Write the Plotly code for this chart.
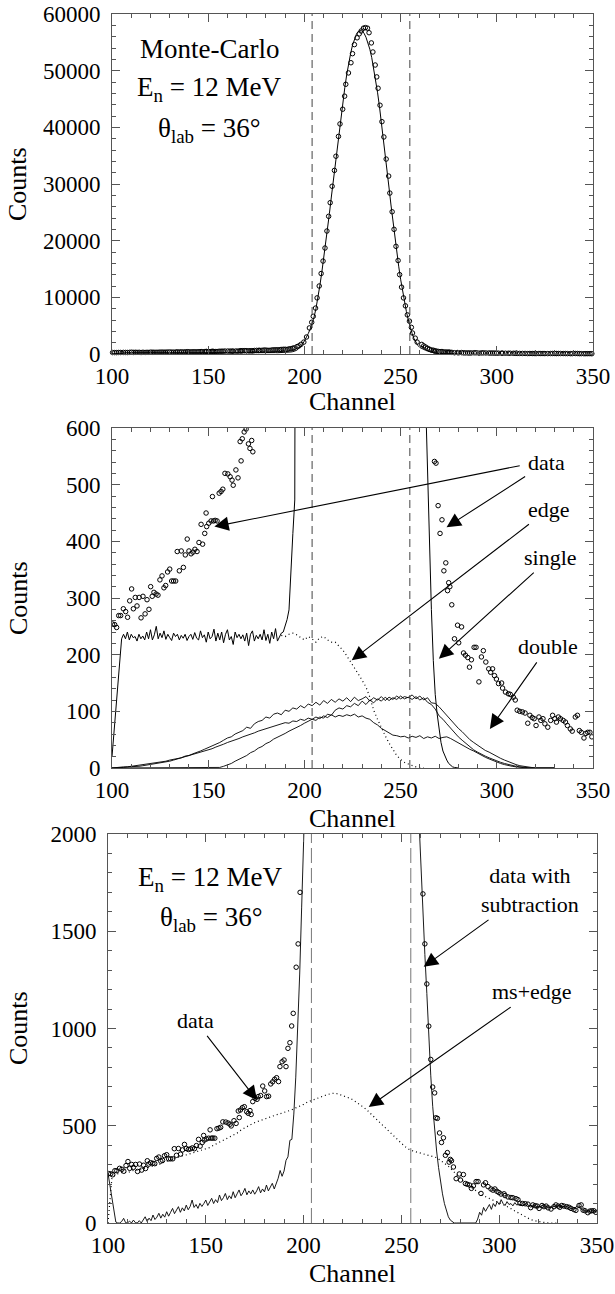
import plotly.graph_objects as go

# ---------------- data ----------------
data_ch = [100.3, 101.4, 102.4, 103.5, 104.5, 105.9, 107.1, 108.1, 109.2, 110.2, 111.1, 112.1, 113.0, 114.1, 115.1,
           116.1, 117.2, 118.2, 119.2, 120.1, 120.9, 121.8, 122.9, 123.9, 124.9, 126.0, 127.0, 127.9, 128.9, 130.0,
           131.0, 132.0, 133.1, 133.9, 135.0, 136.0, 137.1, 138.1, 139.1, 140.0, 141.1, 142.1, 143.1, 144.2, 145.2,
           146.3, 147.1, 148.2, 148.9, 149.2, 150.3, 151.5, 152.2, 152.8, 153.6, 154.6, 155.7, 156.7, 157.6, 158.7,
           160.2, 161.4, 162.4, 163.0, 164.4, 165.5, 166.6, 167.1, 167.7, 168.7, 169.7, 170.9, 171.7, 172.6, 173.2,
           174.0, 175.2, 176.2, 176.8, 178.0, 179.1, 180.1, 181.1, 182.1, 183.2, 184.2, 185.2, 186.2, 187.2, 187.9,
           189.0, 190.0, 191.0, 192.0, 193.0, 193.9, 194.7, 196.2, 197.2, 198.2, 199.7,
           201.1, 202.6, 203.8, 204.6, 205.8, 206.6, 207.7, 208.7, 209.7, 210.7, 211.7, 212.6, 213.4, 214.4, 215.6,
           216.4, 217.7, 218.5, 219.9, 220.9, 221.5, 222.9, 224.2, 225.0, 226.0, 227.4, 228.5, 229.5, 230.7, 231.7,
           232.8, 233.6, 234.8, 235.6, 236.8, 237.6, 238.3, 239.3, 240.3, 241.3, 242.5, 243.8, 244.4, 245.6, 246.6,
           247.6, 248.7, 249.5, 250.5, 251.5, 252.5, 253.5, 254.6, 255.6, 256.2, 257.6, 258.6,
           261.0, 262.0, 263.0, 264.0, 265.0, 266.0, 267.0, 267.6, 268.4, 269.5, 270.5, 271.5, 272.5, 273.5, 274.4,
           275.0, 275.6, 276.6, 278.0, 279.6, 280.2, 281.7, 282.7, 283.7, 284.9, 285.8, 286.8, 288.2, 289.2, 290.7,
           292.0, 293.0, 294.3, 295.8, 296.8, 297.8, 298.8, 299.8, 300.9, 302.5, 303.0, 304.5, 306.0, 307.0, 308.6,
           309.6, 310.6, 311.9, 313.3, 314.7, 316.1, 317.2, 318.4, 319.4, 320.4, 321.9, 322.9, 324.0, 325.0, 326.5,
           328.0, 329.0, 330.2, 331.0, 332.0, 333.1, 334.5, 335.7, 336.7, 338.2, 339.2, 340.8, 341.9, 342.9, 343.9,
           345.3, 346.3, 347.3, 348.4, 349.4]
data_counts = [254, 253, 248, 269, 269, 281, 276, 266, 295, 316, 281, 301, 286, 301, 265,
               303, 272, 297, 280, 320, 303, 310, 307, 305, 332, 339, 318, 322, 346, 351,
               330, 330, 330, 382, 348, 383, 354, 376, 404, 383, 378, 381, 386, 382, 398,
               430, 395, 414, 450, 426, 432, 436, 479, 436, 437, 436, 485, 488, 492, 520,
               519, 514, 508, 499, 526, 512, 576, 542, 581, 593, 598, 572, 564, 578, 558,
               624, 641, 636, 650, 655, 704, 679, 650, 652, 715, 726, 739, 747, 727, 804,
               829, 838, 804, 898, 927, 1013, 1078, 1315, 1435, 1700, 2100,
               3000, 4600, 5600, 6650, 8100, 9900, 12000, 14200, 16400, 18700, 21700, 24300, 26700, 29600, 32400,
               34900, 38400, 40600, 43200, 45500, 47600, 49600, 51400, 53000, 54600, 55800, 56500, 57000, 57500, 57600,
               57500, 56700, 54900, 53300, 51000, 48900, 46900, 43900, 41000, 38300, 34400, 31400, 28400, 25100, 22000,
               19000, 16500, 14000, 11800, 9900, 8500, 6900, 5800, 4700, 3700, 2800, 2100,
               1692, 1435, 1229, 1012, 841, 699, 669, 541, 538, 463, 414, 438, 348, 362, 313,
               327, 320, 288, 228, 252, 221, 249, 203, 199, 195, 178, 191, 213, 213, 152,
               196, 207, 187, 175, 169, 175, 163, 157, 149, 150, 141, 134, 131, 130, 125,
               120, 102, 100, 99, 97, 79, 93, 89, 87, 75, 90, 84, 87, 78, 72,
               84, 93, 87, 81, 90, 87, 84, 81, 75, 69, 65, 90, 93, 66, 63,
               53, 61, 63, 63, 55]

# Monte-Carlo total ("single") spectrum
mc_ch = [100] + list(range(105, 281)) + [350]
mc_counts = [20,
             228, 236, 228, 240, 226, 236, 230, 232, 224, 236, 228, 233, 226, 240, 228,
             244, 226, 235, 250, 228, 238, 230, 242, 227, 236, 230, 225, 238, 232, 236,
             226, 234, 229, 236, 225, 232, 236, 227, 239, 229, 226, 242, 230, 235, 222,
             240, 228, 232, 245, 224, 238, 226, 240, 221, 236, 244, 226, 232, 218, 240,
             230, 236, 228, 235, 224, 238, 216, 236, 242, 224, 234, 228, 236, 226, 244,
             225, 236, 220, 240, 228, 246, 224, 232, 238, 240, 250, 262, 279, 355, 414,
             473, 650, 950, 1300, 1750, 2300, 2900, 3600, 4400, 5300, 6500, 8000, 9800, 12000, 14300,
             16700, 19300, 22000, 24800, 27700, 30600, 33500, 36400, 39300, 42000, 44600, 47000, 49300, 51300, 53000,
             54500, 55600, 56400, 56900, 57100, 57000, 56600, 55900, 55000, 53800, 52300, 50500, 48500, 46200, 43700,
             41000, 38200, 35300, 32300, 29300, 26300, 23400, 20600, 18000, 15500, 13200, 11100, 9200, 7500, 6000,
             4700, 3600, 2700, 2000, 1500, 1150, 950, 900, 650, 520, 400, 280, 190, 130, 95,
             65, 45, 30, 20, 14, 8, 4, 2, 1, 0,
             0]

# edge (dotted) contribution, middle panel
edge_ch = [188, 190, 192, 194, 196, 198, 200, 202, 204, 206, 208, 210, 212, 214, 216, 218, 220, 222, 224, 226,
           228, 230, 232, 234, 236, 238, 240, 242, 244, 246, 248, 250, 252, 254, 256, 258, 260, 262]
edge_counts = [234, 232, 236, 238, 235, 230, 226, 232, 228, 222, 230, 232, 226, 222, 222, 215, 208, 198, 188, 178,
               166, 155, 143, 125, 102, 86, 70, 57, 44, 33, 22, 15, 10, 7, 4, 2, 1, 0]

# multiple-scattering components (middle panel)
ms_ch = list(range(100, 322, 2)) + [330]
ms_a = [0, 1, 1, 2, 2, 3, 4, 4, 5, 6, 7, 8, 9, 11, 12, 14, 15, 17, 18, 21,
        22, 25, 27, 30, 33, 36, 38, 42, 45, 49, 53, 55, 60, 63, 66, 72, 70, 78, 82, 84,
        90, 88, 95, 97, 94, 102, 100, 106, 104, 110, 106, 113, 110, 116, 111, 119, 114, 121, 116, 122,
        118, 124, 117, 125, 119, 122, 126, 118, 124, 120, 126, 119, 125, 121, 127, 122, 126, 124, 129, 122,
        127, 120, 124, 115, 114, 108, 100, 94, 86, 78, 70, 64, 57, 50, 45, 40, 35, 31, 28, 24,
        20, 17, 14, 11, 9, 6, 4, 3, 2, 1, 0, 0]
ms_b = [0, 0, 0, 0, 0, 0, 0, 0, 0, 0, 0, 0, 0, 0, 0, 0, 0, 0, 0, 0,
        0, 0, 0, 0, 0, 0, 0, 0, 1, 3, 5, 8, 12, 15, 19, 22, 27, 30, 35, 38,
        43, 46, 51, 54, 58, 61, 65, 68, 72, 75, 79, 82, 86, 84, 90, 88, 95, 93, 102, 106,
        104, 110, 108, 114, 110, 118, 112, 120, 115, 122, 118, 125, 119, 124, 121, 127, 122, 125, 121, 126,
        120, 124, 116, 112, 104, 92, 86, 78, 70, 62, 55, 49, 43, 37, 32, 28, 24, 21, 18, 15,
        12, 10, 8, 6, 4, 3, 2, 1, 0, 0, 0, 0]
ms_c = [0, 0, 1, 1, 2, 2, 3, 3, 4, 5, 6, 7, 8, 9, 11, 12, 14, 16, 17, 19,
        21, 23, 25, 27, 29, 32, 34, 37, 39, 42, 45, 47, 50, 52, 55, 57, 60, 62, 65, 67,
        70, 72, 73, 76, 77, 80, 79, 83, 82, 86, 84, 88, 86, 90, 87, 92, 89, 94, 90, 93,
        91, 94, 92, 95, 90, 92, 88, 86, 80, 76, 70, 66, 62, 58, 57, 55, 56, 53, 56, 54,
        57, 52, 55, 53, 56, 52, 54, 55, 52, 48, 45, 41, 37, 33, 30, 26, 23, 19, 16, 13,
        11, 8, 6, 4, 3, 2, 1, 0, 0, 0, 0, 0]

# ms+edge (dotted) and data with subtraction (solid), bottom panel
msedge_ch = [100, 101, 102] + list(range(104, 328, 2)) + [330]
msedge_counts = [0, 120, 230,
                 250, 255, 262, 258, 268, 272, 270, 280, 284, 290, 296, 300, 310, 318, 326, 332, 338,
                 346, 350, 356, 360, 366, 372, 378, 388, 400, 410, 420, 430, 440, 448, 462, 478, 490, 502, 512,
                 520, 528, 536, 542, 548, 556, 562, 568, 574, 582, 592, 600, 610, 622, 630, 640, 648, 655, 660,
                 665, 668, 662, 655, 650, 640, 628, 615, 600, 585, 565, 545, 525, 505, 488, 470, 450, 430, 410,
                 392, 378, 370, 364, 358, 354, 348, 342, 336, 322, 308, 292, 272, 250, 230, 212, 196, 180, 166,
                 152, 140, 130, 120, 112, 105, 96, 86, 74, 62, 50, 38, 27, 18, 12, 7, 4, 2, 0,
                 0]
sub_ch = list(range(100, 202)) + list(range(258, 312)) + list(range(312, 352, 2))
sub_counts = [255, 190, 120, 55, 5, 0, 0, 8, 24, 2, 0, 10, 0, 15, 2, 0, 12, 0, 20, 32,
              8, 25, 12, 41, 18, 30, 50, 25, 45, 30, 58, 35, 55, 75, 48, 65, 84, 55, 78, 62,
              92, 68, 85, 118, 80, 95, 75, 101, 85, 100, 118, 90, 110, 127, 100, 120, 105, 144, 115, 130,
              152, 120, 140, 125, 161, 130, 150, 170, 140, 155, 178, 145, 165, 150, 170, 148, 165, 187, 155, 175,
              160, 195, 165, 185, 204, 175, 200, 230, 270, 240, 267, 322, 340, 425, 430, 560, 750, 1000, 1280, 1620,
              1970, 2300,
              2300, 2050, 1850, 1600, 1380, 1180, 950, 760, 600, 470, 370, 285, 210, 150, 100, 60, 32, 15, 5, 0,
              0, 0, 0, 0, 0, 0, 0, 0, 0, 0, 0, 20, 55, 40, 80, 60, 75, 95, 70, 100,
              85, 110, 95, 120, 100, 90, 110, 95, 100, 88, 105, 92, 98, 90,
              90, 100, 82, 92, 80, 90, 85, 78, 86, 88, 84, 86, 78, 72, 88, 70, 62, 60, 64, 56]

cut_channels = [204, 254.8]

# ---------------- layout helpers ----------------
W, H = 615, 1294
FONT = "Liberation Serif"
AX = "#555555"


def px_x(x):
    return x / W


def px_y(y):
    return 1 - y / H


def axis(domain, rng, dtick, mdtick, anchor, standoff):
    return dict(domain=domain, range=rng, dtick=dtick, tick0=0, ticks="inside", ticklen=8, tickwidth=1,
                tickcolor=AX, mirror="ticks", showline=True, linecolor=AX, linewidth=1, showgrid=False,
                zeroline=False, anchor=anchor, tickformat="d", ticklabelstandoff=standoff, automargin=False,
                tickfont=dict(family=FONT, size=23, color="black"),
                minor=dict(dtick=mdtick, tick0=0, ticks="inside", ticklen=4, tickcolor=AX, tickwidth=1,
                           showgrid=False))


fig = go.Figure()

circ = dict(symbol="circle-open", size=4.5, color="black", line=dict(width=1, color="black"))
line_k = dict(color="black", width=1)
dotted = dict(color="black", width=1.2, dash="1px,3px")

# top panel
fig.add_trace(go.Scatter(x=data_ch, y=data_counts, mode="markers", marker=circ, xaxis="x", yaxis="y",
                         cliponaxis=False))
fig.add_trace(go.Scatter(x=mc_ch, y=mc_counts, mode="lines", line=line_k, xaxis="x", yaxis="y"))

# middle panel
fig.add_trace(go.Scatter(x=data_ch, y=data_counts, mode="markers", marker=circ, xaxis="x2", yaxis="y2"))
fig.add_trace(go.Scatter(x=mc_ch, y=mc_counts, mode="lines", line=line_k, xaxis="x2", yaxis="y2"))
fig.add_trace(go.Scatter(x=edge_ch, y=edge_counts, mode="lines", line=dotted, xaxis="x2", yaxis="y2"))
for comp in (ms_a, ms_b, ms_c):
    fig.add_trace(go.Scatter(x=ms_ch, y=comp, mode="lines", line=dict(color="black", width=0.9),
                             xaxis="x2", yaxis="y2"))

# bottom panel
fig.add_trace(go.Scatter(x=data_ch, y=data_counts, mode="markers", marker=circ, xaxis="x3", yaxis="y3"))
fig.add_trace(go.Scatter(x=msedge_ch, y=msedge_counts, mode="lines", line=dotted, xaxis="x3", yaxis="y3"))
fig.add_trace(go.Scatter(x=sub_ch, y=sub_counts, mode="lines", line=dict(color="black", width=0.9),
                         xaxis="x3", yaxis="y3"))

top_dom_x = [px_x(112), px_x(593)]
bot_dom_x = [px_x(108), px_x(597)]

fig.update_layout(
    width=W, height=H, margin=dict(l=0, r=0, t=0, b=0, pad=0, autoexpand=False), showlegend=False,
    paper_bgcolor="white", plot_bgcolor="white",
    xaxis=axis(top_dom_x, [100, 350], 50, 10, "y", 1),
    yaxis=axis([px_y(354), px_y(14)], [0, 60000], 10000, 2000, "x", 6),
    xaxis2=axis(top_dom_x, [100, 350], 50, 10, "y2", 1),
    yaxis2=axis([px_y(768), px_y(428)], [0, 600], 100, 20, "x2", 6),
    xaxis3=axis(bot_dom_x, [100, 350], 50, 10, "y3", 1),
    yaxis3=axis([px_y(1223), px_y(834)], [0, 2000], 500, 100, "x3", 6),
)

# cut lines
for xr, yr, dash, col in [("x", "y", "8px,5px", "#444"), ("x2", "y2", "8px,5px", "#444"),
                          ("x3", "y3", "15px,5px", "#777")]:
    for c in cut_channels:
        fig.add_shape(type="line", xref=xr, yref=yr + " domain", x0=c, x1=c, y0=0, y1=1,
                      line=dict(color=col, width=1, dash=dash))

ann = []


def text(x, y, t, xr, yr, size=22):
    ann.append(dict(x=x, y=y, xref=xr, yref=yr, text=t, showarrow=False, xanchor="center", yanchor="middle",
                    font=dict(family=FONT, size=size, color="black")))


def label_arrow(tip, pos, t, xr, yr, size=22):
    # text placed at pos, arrow drawn from the text box to the tip
    ann.append(dict(x=tip[0], y=tip[1], ax=pos[0], ay=pos[1], xref=xr, yref=yr, axref=xr, ayref=yr,
                    text=t, showarrow=True, arrowhead=2, arrowsize=2.6, arrowwidth=1.1, arrowcolor="black",
                    standoff=0, startstandoff=2, font=dict(family=FONT, size=size, color="black")))


def arrow(tip, tail, xr, yr):
    ann.append(dict(x=tip[0], y=tip[1], ax=tail[0], ay=tail[1], xref=xr, yref=yr, axref=xr, ayref=yr,
                    text="", showarrow=True, arrowhead=2, arrowsize=2.6, arrowwidth=1.1, arrowcolor="black",
                    standoff=0, startstandoff=0))


# top panel texts
text(150.6, 53760, "Monte-Carlo", "x", "y", 27)
text(150.6, 46700, "E<sub>n</sub> = 12 MeV", "x", "y", 27)
text(150.6, 39600, "θ<sub>lab</sub> = 36°", "x", "y", 27)

# middle panel
label_arrow((273.9, 425), (326, 539), "data", "x2", "y2")
arrow((153.2, 426), (312.7, 534), "x2", "y2")
label_arrow((224.6, 190), (327, 457), "edge", "x2", "y2")
label_arrow((269.9, 193), (328, 372), "single", "x2", "y2")
label_arrow((296.4, 69), (326.5, 214), "double", "x2", "y2")

# bottom panel
text(152, 1771, "E<sub>n</sub> = 12 MeV", "x3", "y3", 27)
text(153, 1565, "θ<sub>lab</sub> = 36°", "x3", "y3", 27)
label_arrow((176.2, 631), (144.5, 1042), "data", "x3", "y3", 22)
label_arrow((261.4, 1317), (315.5, 1711), "data with<br>subtraction", "x3", "y3", 22)
label_arrow((233.3, 597), (316.9, 1188), "ms+edge", "x3", "y3", 22)

# axis titles
for yc in (184, 598, 1028):
    ann.append(dict(x=px_x(18), y=px_y(yc), xref="paper", yref="paper", text="Counts", textangle=-90,
                    showarrow=False, xanchor="center", yanchor="middle",
                    font=dict(family=FONT, size=26, color="black")))
for xc, yc in ((352.5, 402), (352.5, 818), (352.5, 1273)):
    ann.append(dict(x=px_x(xc), y=px_y(yc), xref="paper", yref="paper", text="Channel", showarrow=False,
                    xanchor="center", yanchor="middle", font=dict(family=FONT, size=26, color="black")))

fig.update_layout(annotations=ann)
fig.write_html("out.html", config={"displayModeBar": False},
               post_script="document.body.style.margin='0';")
